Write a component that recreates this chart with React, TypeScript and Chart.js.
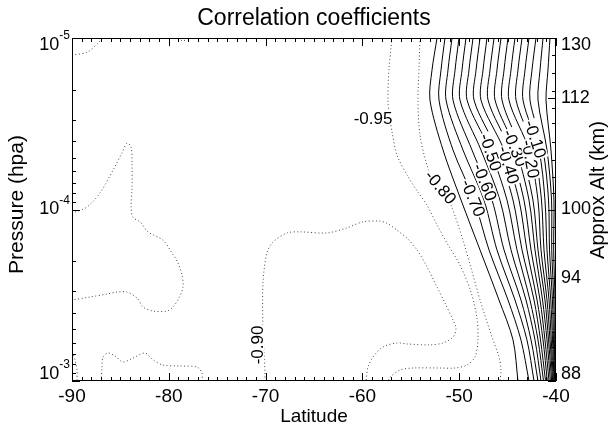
import React, { useEffect, useRef } from "react";
import { Chart, registerables } from "chart.js";

Chart.register(...registerables);

const TITLE = "Correlation coefficients";
const X_TITLE = "Latitude";
const Y_TITLE = "Pressure (hpa)";
const Y2_TITLE = "Approx Alt (km)";

const latMajorTicks = [-90, -80, -70, -60, -50, -40];
const pressureMajorTicks = [1e-5, 1e-4, 1e-3];
const pressureTickExponents = ["-5", "-4", "-3"];
const altTickLabels = ["130", "112", "100", "94", "88"];
const altTickPressures = [1e-5, 2.24e-5, 1.0e-4, 2.5e-4, 1e-3];
const altMinorPressures = [1.26e-5, 1.6e-5, 2.04e-5, 2.56e-5, 3.13e-5, 4.04e-5, 5.14e-5, 6.46e-5, 7.99e-5, 1.26e-4, 1.57e-4, 1.97e-4, 3.24e-4, 4.01e-4, 5.19e-4, 6.33e-4, 7.86e-4];

// solid contour levels, each sampled at the same pressure rows
const solidLevels = ["-0.75", "-0.70", "-0.65", "-0.60", "-0.55", "-0.50", "-0.45", "-0.40", "-0.35", "-0.30", "-0.25", "-0.20", "-0.15", "-0.10", "-0.05", "0.00", "0.05"];
const solidRowPressures = [1.0e-5, 1.54e-5, 2.3e-5, 4.5e-5, 8.81e-5, 1.72e-4, 3.37e-4, 5.76e-4, 1.0e-3];
const solidLats = [
  [-52.29, -52.81, -53.02, -51.67, -49.81, -47.85, -45.89, -44.44, -43.93],
  [-51.47, -51.88, -52.09, -50.64, -48.47, -46.92, -44.96, -43.62, -42.79],
  [-50.74, -51.16, -51.36, -49.61, -47.44, -46.1, -44.24, -43.0, -42.27],
  [-50.02, -50.43, -50.64, -48.68, -46.61, -45.37, -43.62, -42.58, -41.86],
  [-49.3, -49.71, -49.92, -47.75, -45.79, -44.65, -43.1, -42.17, -41.55],
  [-48.57, -48.99, -49.19, -46.82, -45.06, -44.03, -42.69, -41.86, -41.29],
  [-47.85, -48.26, -48.47, -46.1, -44.44, -43.51, -42.27, -41.6, -41.08],
  [-47.13, -47.54, -47.75, -45.37, -43.82, -43.0, -41.96, -41.34, -40.9],
  [-46.4, -46.82, -47.02, -44.75, -43.31, -42.58, -41.65, -41.14, -40.72],
  [-45.68, -46.1, -46.3, -44.13, -42.79, -42.17, -41.39, -40.93, -40.58],
  [-44.96, -45.37, -45.58, -43.62, -42.38, -41.86, -41.14, -40.77, -40.45],
  [-44.24, -44.65, -44.86, -42.79, -41.86, -41.55, -40.93, -40.62, -40.35],
  [-43.51, -43.93, -44.13, -42.27, -41.5, -41.24, -40.72, -40.49, -40.27],
  [-42.79, -43.2, -43.41, -41.76, -41.14, -40.93, -40.54, -40.36, -40.2],
  [-42.07, -42.48, -42.69, -41.34, -40.77, -40.67, -40.37, -40.26, -40.13],
  [-41.34, -41.65, -41.86, -40.93, -40.46, -40.44, -40.23, -40.17, -40.08],
  [-40.62, -40.83, -41.03, -40.52, -40.21, -40.24, -40.1, -40.08, -40.04],
];

// dotted contours: [latitude, pressure]
const cornerTopLeft = [[-90, 1.26e-5], [-88.45, 1.21e-5], [-87.31, 1.07e-5], [-86.9, 1.0e-5]];
const blipTop = [[-79.05, 1.0e-5], [-78.53, 1.04e-5], [-78.02, 1.0e-5]];
const peakLeft = [
  [-90, 1.05e-4], [-88.45, 9.67e-5], [-87.11, 8.01e-5], [-85.76, 5.89e-5], [-84.83, 4.68e-5], [-84.32, 4.1e-5],
  [-83.9, 4.32e-5], [-83.8, 5.35e-5], [-83.8, 7.69e-5], [-83.9, 9.67e-5], [-83.7, 1.11e-4], [-82.98, 1.18e-4],
  [-82.15, 1.35e-4], [-80.6, 1.51e-4], [-79.67, 1.79e-4], [-79.05, 2.05e-4], [-78.64, 2.41e-4], [-78.53, 2.83e-4],
  [-78.95, 3.28e-4], [-79.57, 3.7e-4], [-80.19, 3.91e-4], [-81.63, 3.91e-4], [-82.67, 3.7e-4], [-83.29, 3.28e-4],
  [-84.32, 3.03e-4], [-85.35, 3.03e-4], [-86.38, 3.11e-4], [-88.14, 3.24e-4], [-90, 3.37e-4],
];
const edgeBottomLeft = [[-90, 6.78e-4], [-89.69, 7.54e-4], [-89.48, 8.63e-4], [-89.48, 1.0e-3]];
const bumpBottomLeft = [
  [-87.0, 1.0e-3], [-86.9, 8.4e-4], [-86.8, 7.24e-4], [-86.28, 6.87e-4], [-85.56, 7.14e-4], [-84.73, 7.75e-4],
  [-83.7, 7.34e-4], [-82.46, 6.87e-4], [-81.63, 7.54e-4], [-80.6, 8.07e-4], [-78.84, 8.18e-4], [-77.09, 8.29e-4],
  [-76.57, 8.98e-4], [-76.57, 1.0e-3],
];
const level090 = [
  [-70.06, 1.0e-3], [-70.06, 8.98e-4], [-70.27, 5.04e-4], [-70.27, 2.68e-4], [-69.86, 1.79e-4], [-69.24, 1.55e-4],
  [-67.79, 1.37e-4], [-66.45, 1.35e-4], [-63.66, 1.37e-4], [-61.59, 1.28e-4], [-59.94, 1.18e-4], [-58.18, 1.17e-4],
  [-57.36, 1.21e-4], [-56.43, 1.32e-4], [-55.39, 1.47e-4], [-54.36, 1.72e-4], [-53.33, 2.16e-4], [-52.29, 2.83e-4],
  [-51.47, 3.51e-4], [-50.64, 4.41e-4], [-50.33, 4.91e-4], [-50.64, 5.54e-4], [-51.67, 6.0e-4], [-53.02, 6.16e-4],
  [-55.39, 6.08e-4], [-56.43, 6.0e-4], [-57.87, 6.33e-4], [-58.9, 7.24e-4], [-59.42, 8.29e-4], [-59.63, 1.0e-3],
];
const level095 = [
  [-56.94, 1.0e-5], [-57.25, 1.5e-5], [-57.36, 2.36e-5], [-57.15, 2.92e-5], [-56.94, 3.53e-5], [-56.43, 4.81e-5],
  [-55.39, 6.29e-5], [-54.26, 7.91e-5], [-53.33, 9.42e-5], [-52.29, 1.23e-4], [-51.26, 1.57e-4], [-49.92, 2.11e-4],
  [-48.78, 3.03e-4], [-48.16, 4.3e-4], [-48.06, 5.76e-4], [-48.37, 7.24e-4], [-49.19, 8.07e-4], [-50.43, 8.4e-4],
  [-51.98, 8.4e-4], [-54.77, 8.4e-4], [-56.1, 8.63e-4], [-57.13, 9.48e-4], [-57.33, 1.0e-3],
];
const level080 = [
  [-54.05, 1.0e-5], [-54.15, 1.5e-5], [-54.26, 2.36e-5], [-54.05, 3.68e-5], [-53.33, 5.5e-5], [-52.71, 6.55e-5],
  [-51.67, 7.69e-5], [-50.74, 9.8e-5], [-49.61, 1.51e-4], [-48.78, 2.19e-4], [-47.75, 3.51e-4], [-46.61, 5.54e-4],
  [-45.89, 7.24e-4], [-45.68, 8.63e-4], [-45.79, 1.0e-3],
];

const dottedLines = [cornerTopLeft, blipTop, peakLeft, edgeBottomLeft, bumpBottomLeft, level090, level095, level080];

// labels on solid lines: [level index, pressure at label]
const solidLabelAt = [[1, 8.57e-5], [3, 6.92e-5], [5, 4.63e-5], [7, 5.5e-5], [9, 4.37e-5], [11, 5.08e-5], [13, 3.88e-5]];
// free labels: text, latitude, pressure, angle
const freeLabels: [string, number, number, number][] = [
  ["-0.95", -58.9, 2.92e-5, 0],
  ["-0.90", -70.89, 6.16e-4, -90],
];
const dottedLabelAt: [string, number, number][] = [["-0.80", 7, 7.4e-5]];

const FONT = '"Liberation Sans", Arial, Helvetica, sans-serif';

function txt(ctx: CanvasRenderingContext2D, s: string, x: number, y: number, size: number, align: CanvasTextAlign = "center", angle = 0) {
  ctx.save();
  ctx.translate(x, y);
  if (angle) ctx.rotate((angle * Math.PI) / 180);
  ctx.font = `${size}px ${FONT}`;
  ctx.textAlign = align;
  ctx.textBaseline = "middle";
  ctx.fillStyle = "#000";
  ctx.fillText(s, 0, 0);
  ctx.restore();
}

function boxedText(ctx: CanvasRenderingContext2D, s: string, x: number, y: number, ang: number) {
  const size = 17;
  ctx.save();
  ctx.translate(x, y);
  ctx.rotate((ang * Math.PI) / 180);
  ctx.font = `${size}px ${FONT}`;
  const w = ctx.measureText(s).width;
  ctx.fillStyle = "#fff";
  ctx.fillRect(-w / 2 - 1, -size * 0.42, w + 2, size * 0.84);
  ctx.fillStyle = "#000";
  ctx.textAlign = "center";
  ctx.textBaseline = "middle";
  ctx.fillText(s, 0, 1);
  ctx.restore();
}

function labelOnLine(ctx: CanvasRenderingContext2D, meta: any, py: number, s: string) {
  const pts = meta.data.map((e: any) => ({ x: e.x, y: e.y }));
  for (let i = 0; i < pts.length - 1; i++) {
    const a = pts[i], b = pts[i + 1];
    if ((py - a.y) * (py - b.y) <= 0 && a.y !== b.y) {
      const t = (py - a.y) / (b.y - a.y);
      const x = a.x + t * (b.x - a.x);
      let ang = (Math.atan2(b.y - a.y, b.x - a.x) * 180) / Math.PI;
      if (ang > 90) ang -= 180;
      if (ang < -90) ang += 180;
      boxedText(ctx, s, x, py, ang);
      return;
    }
  }
}

const framePlugin = {
  id: "frame",
  afterDatasetsDraw(chart: any) {
    const ctx: CanvasRenderingContext2D = chart.ctx;
    const xs = chart.scales.x, ys = chart.scales.y;
    solidLabelAt.forEach(([li, p]) => {
      labelOnLine(ctx, chart.getDatasetMeta(li), ys.getPixelForValue(p), solidLevels[li]);
    });
    dottedLabelAt.forEach(([s, di, p]) => {
      labelOnLine(ctx, chart.getDatasetMeta(solidLats.length + di), ys.getPixelForValue(p), s);
    });
    freeLabels.forEach(([s, lat, p, ang]) => {
      boxedText(ctx, s, xs.getPixelForValue(lat), ys.getPixelForValue(p), ang);
    });
  },
  afterDraw(chart: any) {
    const ctx: CanvasRenderingContext2D = chart.ctx;
    const a = chart.chartArea;
    const xs = chart.scales.x, ys = chart.scales.y;
    ctx.save();
    ctx.strokeStyle = "#000";
    ctx.lineWidth = 1;
    ctx.strokeRect(a.left + 0.5, a.top + 0.5, a.right - a.left - 1, a.bottom - a.top - 1);
    const seg = (x1: number, y1: number, x2: number, y2: number) => {
      ctx.beginPath();
      ctx.moveTo(x1, y1);
      ctx.lineTo(x2, y2);
      ctx.stroke();
    };
    for (let lat = -90; lat <= -40; lat += 1) {
      const x = Math.round(xs.getPixelForValue(lat)) + 0.5;
      const major = latMajorTicks.includes(lat);
      const L = major ? 8 : 4;
      seg(x, a.bottom, x, a.bottom - L);
      seg(x, a.top, x, a.top + L);
    }
    for (let e = -5; e < -3; e++) {
      for (let m = 1; m <= 10; m++) {
        const p = m * Math.pow(10, e);
        const y = Math.round(ys.getPixelForValue(p)) + 0.5;
        const L = m === 1 || m === 10 ? 8 : 4;
        seg(a.left, y, a.left + L, y);
      }
    }
    altTickPressures.forEach((p) => {
      const y = Math.round(ys.getPixelForValue(p)) + 0.5;
      seg(a.right, y, a.right - 8, y);
    });
    altMinorPressures.forEach((p) => {
      const y = Math.round(ys.getPixelForValue(p)) + 0.5;
      seg(a.right, y, a.right - 4, y);
    });
    ctx.restore();

    latMajorTicks.forEach((lat) => {
      txt(ctx, String(lat), xs.getPixelForValue(lat), a.bottom + 16, 19);
    });
    const clampY = (y: number) => Math.min(Math.max(y, a.top + 7), a.bottom - 7);
    pressureMajorTicks.forEach((p, i) => {
      const y = clampY(ys.getPixelForValue(p));
      ctx.font = `12px ${FONT}`;
      const ew = ctx.measureText(pressureTickExponents[i]).width;
      const right = a.left - 2;
      txt(ctx, pressureTickExponents[i], right - ew, y - 9, 12, "left");
      txt(ctx, "10", right - ew, y, 18, "right");
    });
    altTickPressures.forEach((p, i) => {
      txt(ctx, altTickLabels[i], a.right + 5, clampY(ys.getPixelForValue(p)), 18, "left");
    });
    txt(ctx, TITLE, (a.left + a.right) / 2, 19, 23);
    txt(ctx, X_TITLE, (a.left + a.right) / 2, a.bottom + 36, 19);
    txt(ctx, Y_TITLE, 17, (a.top + a.bottom) / 2 - 5, 21, "center", -90);
    txt(ctx, Y2_TITLE, a.right + 42, 190, 20, "center", -90);
  },
};

export default function App() {
  const ref = useRef<HTMLCanvasElement>(null);
  useEffect(() => {
    const datasets: any[] = [];
    solidLats.forEach((lats) => {
      datasets.push({
        data: lats.map((lat, j) => ({ x: lat, y: solidRowPressures[j] })),
        borderColor: "#000",
        borderWidth: 1,
        showLine: true,
        pointRadius: 0,
        tension: 0.3,
      });
    });
    dottedLines.forEach((pts) => {
      datasets.push({
        data: pts.map(([x, y]) => ({ x, y })),
        borderColor: "#444",
        borderWidth: 1,
        borderDash: [1, 2.5],
        showLine: true,
        pointRadius: 0,
        tension: 0.3,
      });
    });
    const chart = new Chart(ref.current as HTMLCanvasElement, {
      type: "scatter",
      data: { datasets },
      options: {
        responsive: false,
        animation: false,
        devicePixelRatio: 1,
        layout: { padding: { left: 72, top: 38, right: 56, bottom: 46 } },
        plugins: { legend: { display: false }, tooltip: { enabled: false }, title: { display: false } },
        events: [],
        scales: {
          x: { type: "linear", min: -90, max: -40, display: false },
          y: { type: "logarithmic", min: 1e-5, max: 1e-3, reverse: true, display: false },
        },
      },
      plugins: [framePlugin],
    });
    return () => chart.destroy();
  }, []);
  return (
    <div style={{ position: "absolute", left: 0, top: 0, width: 612, height: 427, background: "#fff" }}>
      <canvas ref={ref} width={612} height={427} />
    </div>
  );
}
